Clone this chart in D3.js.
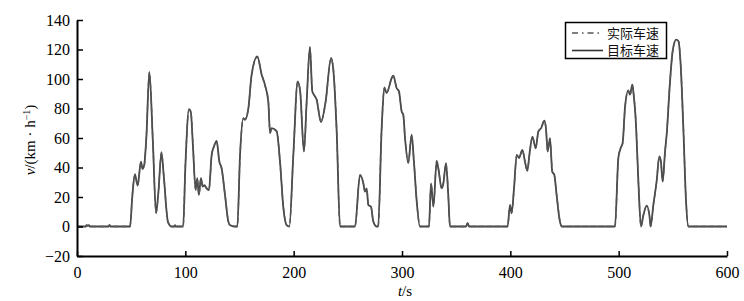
<!DOCTYPE html>
<html><head><meta charset="utf-8">
<script src="https://cdn.jsdelivr.net/npm/d3@7"></script>
<style>body{margin:0;background:#fff}svg{display:block}</style>
</head><body><svg id="c" width="744" height="301"></svg>
<script>
const xTicks = [0,100,200,300,400,500,600];
const yTicks = [-20,0,20,40,60,80,100,120,140];
const legendLabels = ["实际车速","目标车速"];
const time = [0,8,9,10,11,12,13,29,30,31,49,51,53.5,56,59,60.5,62,64,66.8,70,73,75,78,80,84,87.4,90,90.5,91,98,100,103.4,105,107,109.5,111,112.5,114.4,116,117.5,119.7,121.8,124.3,126.5,128.9,131.4,133.5,136.6,139.7,141,145.8,148,150.5,153.5,155,158.2,161.2,166.5,170.4,173.5,176.6,178.2,179.7,184.3,187.4,190.5,193.5,196,199.7,203.7,206,209.5,212,215,217.2,218.7,221.2,225.2,229.5,234.5,236.6,239.7,242.8,256.6,261.2,264.3,265.8,267.4,268.9,271.4,273.5,276.6,278,281.2,283.7,285.8,290.5,292,295,297.2,299.7,301.2,302.8,305.8,308.9,311,313.6,316.6,324.9,326.8,329,332,333.5,336.6,338.2,340.6,342.7,344.3,359,360.6,362,397.5,399.7,401.2,403.4,405.9,408,411.1,413.5,415.7,417.6,420.4,423.4,425.9,428.4,431.4,433,434.4,436.6,438.7,440.6,442.7,445.8,447.4,496.6,499.7,501.8,503.7,505.8,508.9,510.5,512.6,513.5,516,518.2,520.6,522.7,525.9,528.4,529.5,532,535,537.5,539,540.6,542.8,544.3,547.4,549.8,553,555.2,557.2,559.7,562.2,564.3,600];
const targetSpeed = [0,0,1,0.5,1,0,0,0,1,0,0,20,35.5,27.7,44,39,41.5,60,104.8,58,9,22,50.4,35,3,0,0,1,0,0,40,79.6,78,55,24.8,32.7,21.4,32.7,27,28,25.8,24.6,48.6,54.3,58,44,39.5,21.4,3.3,1,0,0,48.6,73.5,72.3,80.3,103,115.4,103,96,84.7,63.3,66.7,64.5,44,12.5,1,0,48.6,98.4,91.6,50.8,84.7,121.8,91.6,89.4,86,70.8,84.7,114.3,106.4,64.5,0,0,35,29.3,23.6,25.9,14.6,13.4,3.3,0,0,66.2,94.3,90.5,100.7,102.3,93.9,91.6,78,75.8,60,43,62.2,44,16.9,0,0,29.3,13.4,44.5,39.5,25.9,29.3,43,21.4,0,0,2.2,0,0,14.6,9,25.9,48.6,46.4,52,44,37.7,48.6,61,53,64.5,66.7,71.7,65.6,50.8,59.9,37.2,35,21.4,3.3,0,0,46.3,53,56.7,80.3,92.1,89.4,96.2,91.6,69,30.4,0,7.3,14.1,7.3,0,14.6,30.4,47.5,44,30.4,50.8,62.2,98.4,118.8,126.7,125.6,110,66.7,16.9,0,0];
const actualSpeed = [0,0,1,0.5,1,0,0,0,1,0,0,20.5,35,28,43.5,39.5,41,60.5,104.3,58.5,9.5,21.5,50,35.5,3,0,0,1,0,0,40.5,79,78.5,55.5,25,32.2,21.8,32.3,27.3,28,26,24.8,48,54.6,57.6,44.4,39.2,21.8,3.5,1,0,0,48,73,72.6,80,102.5,115,103.3,95.6,84.9,63.6,66.4,64.8,43.6,12.9,1,0,48.2,98,91.9,51.2,84.3,121.3,91.9,89.1,86.3,71.1,84.4,113.9,106.7,64.9,0,0,34.6,29.6,23.9,25.6,14.9,13.2,3.5,0,0,65.8,94,90.8,100.4,102,94.2,91.3,78.3,75.5,60.3,43.3,61.9,44.3,17.2,0,0,29,13.7,44.2,39.8,25.6,29.6,42.7,21.7,0,0,2.2,0,0,14.3,9.3,25.6,48.3,46.7,51.7,44.3,37.9,48.3,60.7,53.3,64.2,66.9,71.4,65.9,51,59.6,37.5,34.7,21.7,3.5,0,0,46,53.3,56.4,80,92.4,89.1,95.9,91.9,69.3,30.7,0,7.5,13.8,7.5,0,14.3,30.1,47.2,44.3,30.7,50.5,62.5,98,118.5,126.3,125.9,110.3,67,17.2,0,0];

const SERIF = "Liberation Serif";
const svg = d3.select("#c");
const x = d3.scaleLinear().domain([0,600]).range([77,727]);
const y = d3.scaleLinear().domain([-20,140]).range([256,20]);

const line = d3.line().x((d,i)=>x(time[i])).y(d=>y(d)).curve(d3.curveMonotoneX);

svg.append("path").datum(targetSpeed).attr("d",line)
  .attr("fill","none").attr("stroke","#474747").attr("stroke-width",1.8);
svg.append("path").datum(actualSpeed).attr("d",line)
  .attr("fill","none").attr("stroke","#555").attr("stroke-width",1.4)
  .attr("stroke-dasharray","5,3");

// axes
const xAxis = d3.axisBottom(x).tickValues(xTicks).tickSizeInner(-5).tickSizeOuter(0).tickPadding(12);
const gx = svg.append("g").attr("transform","translate(0,256)").call(xAxis);
const yAxis = d3.axisLeft(y).tickValues(yTicks).tickSizeInner(-6).tickSizeOuter(0).tickPadding(12)
  .tickFormat(d=> d<0 ? "\u2212"+Math.abs(d) : d);
const gy = svg.append("g").attr("transform","translate(77,0)").call(yAxis);
[gx,gy].forEach(g=>{
  g.select(".domain").attr("stroke","#000").attr("stroke-width",2);
  g.selectAll(".tick line").attr("stroke","#000").attr("stroke-width",1.5);
  g.selectAll(".tick text").style("font-family",SERIF).style("font-size","16px").attr("fill","#000");
});
gy.selectAll(".tick text").attr("dx",5);
gx.selectAll(".tick text").attr("dy","0.6em");

// axis labels
const xl = svg.append("text").attr("x",405).attr("y",296).attr("text-anchor","middle")
  .style("font-family",SERIF).style("font-size","15px");
xl.append("tspan").style("font-style","italic").text("t");
xl.append("tspan").text("/s");

const yl = svg.append("text").attr("transform","translate(35,140) rotate(-90)").attr("text-anchor","middle")
  .style("font-family",SERIF).style("font-size","15px");
yl.append("tspan").style("font-style","italic").text("v");
yl.append("tspan").text("/(km · h");
yl.append("tspan").attr("dy",-5).style("font-size","10px").text("−1");
yl.append("tspan").attr("dy",5).text(")");

// legend
const lg = svg.append("g");
lg.append("rect").attr("x",565.5).attr("y",22.5).attr("width",101).attr("height",36)
  .attr("fill","#fff").attr("stroke","#000").attr("stroke-width",1.5);
lg.append("line").attr("x1",572).attr("x2",603).attr("y1",33).attr("y2",33)
  .attr("stroke","#555").attr("stroke-width",1.5).attr("stroke-dasharray","6,4,1.5,4");
lg.append("line").attr("x1",572).attr("x2",603).attr("y1",50.5).attr("y2",50.5)
  .attr("stroke","#333").attr("stroke-width",1.6);
legendLabels.forEach((t,i)=>{
  lg.append("text").attr("x",607).attr("y",37.5+i*17.5).style("font-family","Noto Sans CJK SC")
    .style("font-size","13px").attr("fill","#111").text(t);
});
</script></body></html>
